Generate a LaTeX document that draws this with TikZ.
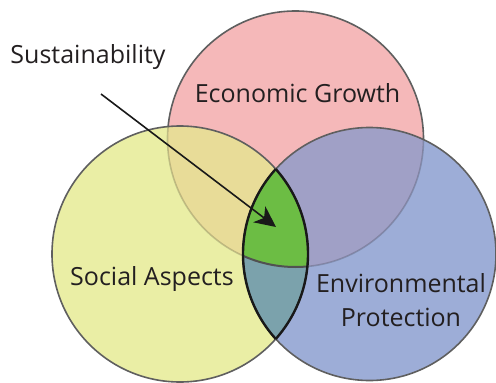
\documentclass[tikz,border=0pt]{standalone}
\usepackage{fontspec}
\setmainfont{Open Sans}
\usetikzlibrary{arrows.meta}
\definecolor{cPink}{RGB}{245,184,185}
\definecolor{cYellow}{RGB}{234,238,165}
\definecolor{cBlue}{RGB}{157,173,215}
\definecolor{cYP}{RGB}{232,220,152}
\definecolor{cPB}{RGB}{160,160,198}
\definecolor{cGreen}{RGB}{108,189,68}
\definecolor{cYB}{RGB}{123,162,172}
\definecolor{cEdge}{RGB}{95,95,95}
\definecolor{cText}{RGB}{35,31,32}
\begin{document}
\begin{tikzpicture}[x=1pt,y=-1pt,
  edge/.style={draw=cEdge,line width=1.6pt},
  faint/.style={draw=black,opacity=0.18,line width=1.6pt},
  lens/.style={draw=black!90,line width=2.4pt},
  label/.style={text=cText,font=\fontsize{25}{34}\selectfont,inner sep=0pt,anchor=base},
  pointer/.style={draw=black!90,line width=1.6pt,-{Stealth[length=21pt,width=20pt,inset=6pt]}}]
\useasboundingbox (0,0) rectangle (496,383);
\coordinate (E) at (295.5,139);
\coordinate (S) at (180,254);
\coordinate (P) at (369.5,254);
\def\rE{128pt}
\def\rS{128pt}
\def\rP{126.5pt}
% base circles
\fill[cPink] (E) circle[radius=\rE];
\draw[edge] (E) circle[radius=\rE];
\fill[cYellow] (S) circle[radius=\rS];
\fill[cBlue] (P) circle[radius=\rP];
% overlaps
\begin{scope}
  \clip (S) circle[radius=\rS];
  \fill[cYP] (E) circle[radius=\rE];
  \draw[faint] (E) circle[radius=\rE];
\end{scope}
\begin{scope}
  \clip (P) circle[radius=\rP];
  \fill[cPB] (E) circle[radius=\rE];
  \draw[faint] (E) circle[radius=\rE];
\end{scope}
\begin{scope}
  \clip (S) circle[radius=\rS];
  \clip (P) circle[radius=\rP];
  \fill[cYB] (P) circle[radius=\rP];
  \fill[cGreen] (E) circle[radius=\rE];
  \draw[draw=cEdge!85!black,line width=2pt] (E) circle[radius=\rE];
\end{scope}
% outlines
\draw[edge] (S) circle[radius=\rS];
\draw[edge] (P) circle[radius=\rP];
\begin{scope}
  \clip (S) circle[radius=\rS];
  \draw[lens] (P) circle[radius=\rP];
\end{scope}
\begin{scope}
  \clip (P) circle[radius=\rP];
  \draw[lens] (S) circle[radius=\rS];
\end{scope}
% labels
\node[label] (sus) at (88,63.5) {Sustainability};
\node[label] (eco) at (297.5,102) {Economic Growth};
\node[label] (soc) at (152,285) {Social Aspects};
\node[label] (env) at (401,292) {Environmental};
\node[label] (pro) at (401,326) {Protection};
% arrow
\coordinate (from) at (101,94);
\coordinate (to) at (276,227);
\draw[pointer] (from) -- (to);
\end{tikzpicture}
\end{document}
